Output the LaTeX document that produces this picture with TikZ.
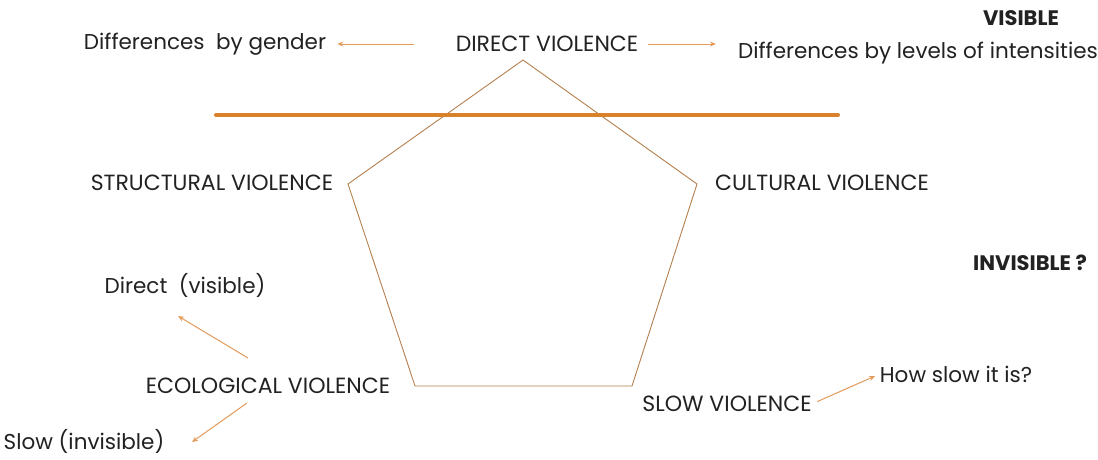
\documentclass[tikz,border=0pt]{standalone}
\usepackage{fontspec}
\setmainfont{Poppins}
\usetikzlibrary{arrows.meta,positioning}
\definecolor{vlink}{HTML}{222222}
\definecolor{vlpage}{HTML}{FFFFFF}
\definecolor{vlline}{HTML}{D9822B}
\definecolor{vlshape}{HTML}{B5804F}
\definecolor{vlarrow}{HTML}{E39A5A}
\tikzset{
  vllabel/.style={
    inner sep=0pt,
    font=\fontsize{21.5}{24}\selectfont,
    text=vlink
  },
  vlcaps/.style={
    vllabel,
    font=\fontsize{22}{24}\selectfont
  },
  vlside/.style={
    vllabel,
    font=\fontsize{21}{24}\selectfont\bfseries
  },
  vlpenta/.style={
    draw=vlshape,
    line width=0.9pt,
    line join=miter
  },
  vlsplit/.style={
    draw=vlline,
    line width=4pt,
    line cap=round
  },
  vledge/.style={
    -{Stealth[length=6pt,width=5pt]},
    line width=1pt,
    color=vlarrow
  }
}
\begin{document}
\begin{tikzpicture}[x=1pt,y=-1pt]
  \useasboundingbox[fill=vlpage] (0,0) rectangle (1098,459);

  \coordinate (ptop) at (523,60);
  \coordinate (pright) at (697,184);
  \coordinate (pbotr) at (632,386);
  \coordinate (pbotl) at (415,386);
  \coordinate (pleft) at (348,184);
  \draw[vlpenta] (ptop) -- (pright) -- (pbotr) -- (pbotl) -- (pleft) -- cycle;

  \draw[vlsplit] (216,115) -- (838,115);

  \node[vlcaps] (direct) at (547,44) {DIRECT VIOLENCE};
  \node[vllabel] (gender) at (205,44) {Differences\ \ by gender};
  \node[vllabel] (levels) at (918,53) {Differences by levels of intensities};
  \node[vlside] (visible) at (1021,18) {VISIBLE};

  \node[vlcaps] (structural) at (212,183) {STRUCTURAL VIOLENCE};
  \node[vlcaps] (cultural) at (822,183) {CULTURAL VIOLENCE};
  \node[vlside] (invisible) at (1030,263) {INVISIBLE ?};

  \node[vllabel] (dirvis) at (185,285) {Direct\ \ (visible)};
  \node[vlcaps] (ecological) at (268,386) {ECOLOGICAL VIOLENCE};
  \node[vllabel] (slowinv) at (84,441) {Slow (invisible)};

  \node[vlcaps] (slow) at (727,404) {SLOW VIOLENCE};
  \node[vllabel] (howslow) at (956,374) {How slow it is?};

  \coordinate (ecoup) at (248,358);
  \coordinate (ecoupend) at (178,316);
  \coordinate (ecodown) at (247,403);
  \coordinate (ecodownend) at (192,442);

  \draw[vledge, shorten <=42pt, shorten >=11pt] (direct.west) -- (gender.east);
  \draw[vledge, shorten <=10pt, shorten >=22pt] (direct.east) -- (levels.west |- direct.east);
  \draw[vledge] (ecoup) -- (ecoupend);
  \draw[vledge] (ecodown) -- (ecodownend);
  \draw[vledge, shorten <=6pt, shorten >=5pt] (slow.east) -- (howslow.west);
\end{tikzpicture}
\end{document}
